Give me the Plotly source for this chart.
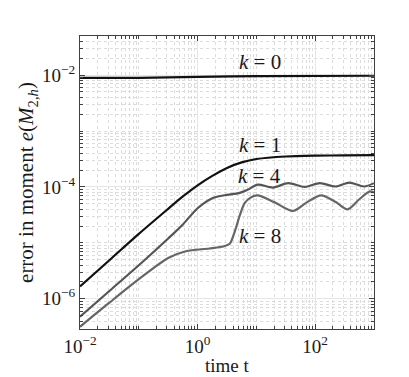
import math
import plotly.graph_objects as go

# ---- data ----
t_k0 = [0.01, 0.1, 1.0, 10.0, 1000.0]
e_k0 = [8.9e-3, 8.95e-3, 9.3e-3, 9.6e-3, 9.75e-3]

t_k1 = [0.01, 0.0316, 0.1, 0.316, 0.562, 1.0, 1.78, 3.16, 5.62, 10.0, 31.6, 100.0, 316.0, 1000.0]
e_k1 = [1.66e-6, 4.90e-6, 1.45e-5, 4.07e-5, 6.76e-5, 1.07e-4, 1.58e-4, 2.19e-4, 2.75e-4,
        3.16e-4, 3.51e-4, 3.63e-4, 3.67e-4, 3.72e-4]

t_k4 = [0.01, 0.0316, 0.1, 0.316, 0.562, 1.0, 1.78, 3.16, 5.01, 7.08, 10.5, 19.1, 34.7,
        66.1, 120.0, 224.0, 380.0, 676.0, 1000.0]
e_k4 = [4.79e-7, 1.38e-6, 3.98e-6, 1.20e-5, 2.14e-5, 4.17e-5, 6.31e-5, 7.24e-5, 7.76e-5,
        8.91e-5, 1.10e-4, 9.77e-5, 1.17e-4, 1.00e-4, 1.17e-4, 1.02e-4, 1.20e-4, 1.02e-4, 1.17e-4]

t_k8 = [0.01, 0.0316, 0.1, 0.316, 0.631, 1.585, 2.82, 3.55, 4.27, 5.25, 6.31, 7.94, 10.5,
        20.0, 41.7, 70.8, 126.0, 224.0, 355.0, 562.0, 851.0, 1000.0]
e_k8 = [3.16e-7, 8.51e-7, 2.24e-6, 5.37e-6, 7.08e-6, 7.94e-6, 8.71e-6, 9.77e-6, 1.58e-5,
        3.16e-5, 5.13e-5, 6.46e-5, 7.08e-5, 5.37e-5, 3.72e-5, 5.25e-5, 7.08e-5, 5.37e-5,
        3.98e-5, 6.03e-5, 8.32e-5, 7.94e-5]

labels = ["<i>k</i> = 0", "<i>k</i> = 1", "<i>k</i> = 4", "<i>k</i> = 8"]
label_x = [11.5, 11.5, 11.5, 11.5]
label_y = [1.69e-2, 5.6e-4, 1.59e-4, 1.35e-5]

x_tickvals = [1e-2, 1e0, 1e2]
x_ticktext = ["10<sup>−2</sup>", "10<sup>0</sup>", "10<sup>2</sup>"]
y_tickvals = [1e-6, 1e-4, 1e-2]
y_ticktext = ["10<sup>−6</sup>", "10<sup>−4</sup>", "10<sup>−2</sup>"]

FONT = "Liberation Serif"
TXT = "#1a1a1a"

fig = go.Figure()
series = [
    (t_k0, e_k0, "#111111"),
    (t_k1, e_k1, "#111111"),
    (t_k4, e_k4, "#555555"),
    (t_k8, e_k8, "#666666"),
]
for tx, ey, col in series:
    fig.add_trace(go.Scatter(x=tx, y=ey, mode="lines",
                             line=dict(color=col, width=2.2, shape="spline", smoothing=0.8),
                             showlegend=False, hoverinfo="skip"))

for txt, lx, ly in zip(labels, label_x, label_y):
    fig.add_annotation(x=math.log10(lx), y=math.log10(ly), xref="x", yref="y", text=txt,
                       showarrow=False, font=dict(family=FONT, size=21, color=TXT),
                       xanchor="center", yanchor="middle")

# x-axis title as an annotation so it sits fully inside the canvas
fig.add_annotation(x=0.5, y=-0.125, xref="paper", yref="paper", text="time t",
                   showarrow=False, font=dict(family=FONT, size=19, color=TXT),
                   xanchor="center", yanchor="middle")

def minor_vals(lo, hi):
    vals = []
    for d in range(lo, hi + 1):
        for m in range(1, 10):
            vals.append(m * 10.0 ** d)
    return vals

grid_major = "#e6e6e6"
grid_minor = "#dcdcdc"
axis_col = "#404040"

common = dict(type="log", showline=True, linecolor=axis_col, linewidth=1, mirror="allticks",
              ticks="inside", ticklen=5, tickcolor=axis_col, tickwidth=0.8,
              showgrid=True, gridcolor=grid_major, gridwidth=1, zeroline=False,
              tickfont=dict(family=FONT, size=19, color=TXT))

fig.update_xaxes(range=[-2, 3], tickmode="array", tickvals=x_tickvals, ticktext=x_ticktext,
                 minor=dict(tickmode="array", tickvals=minor_vals(-2, 2), ticks="inside",
                            ticklen=3, tickcolor=axis_col, showgrid=True, griddash="dot",
                            gridcolor=grid_minor, gridwidth=0.6),
                 **common)
fig.update_yaxes(range=[-6.54, -1.30], tickmode="array", tickvals=y_tickvals, ticktext=y_ticktext,
                 title=dict(text="error in moment <i>e</i>(<i>M</i><sub>2,<i>h</i></sub>)",
                            font=dict(family=FONT, size=21, color=TXT), standoff=2),
                 minor=dict(tickmode="array", tickvals=minor_vals(-7, -2), ticks="inside",
                            ticklen=3, tickcolor=axis_col, showgrid=True, griddash="dot",
                            gridcolor=grid_minor, gridwidth=0.6),
                 **common)

fig.update_layout(width=409, height=377, margin=dict(l=72, r=43, t=28, b=56),
                  plot_bgcolor="white", paper_bgcolor="white")

fig.write_html("out.html")
